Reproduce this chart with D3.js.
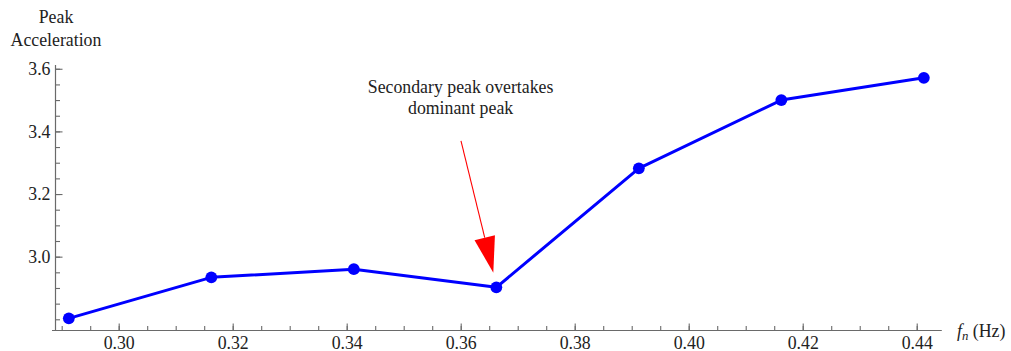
<!DOCTYPE html>
<html>
<head>
<meta charset="utf-8">
<script src="https://cdn.jsdelivr.net/npm/d3@7"></script>
<style>
  html, body { margin: 0; padding: 0; background: #fff; }
  svg { display: block; }
  text { font-family: "Liberation Serif", "Times New Roman", serif; fill: #222; }
</style>
</head>
<body>
<svg id="chart" width="1011" height="351"></svg>
<script>
// Natural frequency (Hz) and the resulting peak acceleration
const freqs = [0.29125, 0.31625, 0.34125, 0.36625, 0.39125, 0.41625, 0.44125];
const peakAccel = [2.803, 2.934, 2.960, 2.902, 3.282, 3.500, 3.571];

// Axis ticks
const xMajorTicks = [0.30, 0.32, 0.34, 0.36, 0.38, 0.40, 0.42, 0.44];
const xMinorTicks = d3.range(0, 31).map(i => 0.29 + i * 0.005).filter(v => v <= 0.4441);
const yMajorTicks = [3.0, 3.2, 3.4, 3.6];
const yMinorTicks = d3.range(0, 17).map(i => 2.80 + i * 0.05).filter(v => v <= 3.601);

// Callout: text lines plus arrow tail/tip in data units
const calloutLines = ["Secondary peak overtakes", "dominant peak"];
const arrowFrom = [0.36005, 3.3696];
const arrowTo = [0.36572, 2.9489];

const svg = d3.select("#chart");
const FS = 17.8;

const x = d3.scaleLinear().domain([0.2883, 0.4444]).range([52, 941.8]);
const y = d3.scaleLinear().domain([2.7636, 3.612]).range([330.7, 65]);

const axisColor = "#6a6a6a";
const xAxisY = 330.5;
const yAxisX = 55.5;

// x axis: minor ticks, then major ticks with labels
const gxMinor = svg.append("g").attr("transform", `translate(0,${xAxisY})`)
  .call(d3.axisBottom(x).tickValues(xMinorTicks).tickSize(-4.5).tickSizeOuter(0).tickFormat(""));
const gx = svg.append("g").attr("transform", `translate(0,${xAxisY})`)
  .call(d3.axisBottom(x).tickValues(xMajorTicks).tickSize(-7).tickSizeOuter(0)
    .tickPadding(6).tickFormat(d3.format(".2f")));

// y axis: minor ticks, then major ticks with labels
const gyMinor = svg.append("g").attr("transform", `translate(${yAxisX},0)`)
  .call(d3.axisLeft(y).tickValues(yMinorTicks).tickSize(-4.5).tickSizeOuter(0).tickFormat(""));
const gy = svg.append("g").attr("transform", `translate(${yAxisX},0)`)
  .call(d3.axisLeft(y).tickValues(yMajorTicks).tickSize(-7).tickSizeOuter(0)
    .tickPadding(5).tickFormat(d3.format(".1f")));

[gxMinor, gx, gyMinor, gy].forEach(g => {
  g.selectAll(".domain").attr("stroke", axisColor).attr("stroke-width", 1.2);
  g.selectAll(".tick line").attr("stroke", axisColor).attr("stroke-width", 1.1);
  g.selectAll("text").attr("font-family", "Liberation Serif, serif")
    .attr("font-size", FS).attr("fill", "#222");
});
// x axis line reaches a little past the y axis on the left
gx.select(".domain").attr("d", `M52,0H941.8`);
gxMinor.select(".domain").remove();
gy.select(".domain").attr("d", `M0,${y.range()[1]}V${xAxisY}`);
gyMinor.select(".domain").remove();

// y axis title
const yTitle = svg.append("text").attr("text-anchor", "middle").attr("font-size", FS);
yTitle.append("tspan").attr("x", 56).attr("y", 23).text("Peak");
yTitle.append("tspan").attr("x", 56).attr("y", 46).text("Acceleration");

// x axis title
const xTitle = svg.append("text").attr("x", 957).attr("y", 336.5).attr("font-size", FS);
xTitle.append("tspan").attr("font-style", "italic").text("f");
xTitle.append("tspan").attr("font-style", "italic").attr("font-size", FS * 0.72).attr("dy", 3).text("n");
xTitle.append("tspan").attr("dy", -3).text(" (Hz)");

// data line and markers
const line = d3.line().x((d, i) => x(freqs[i])).y(d => y(d));
svg.append("path").datum(peakAccel)
  .attr("d", line).attr("fill", "none")
  .attr("stroke", "#0000ff").attr("stroke-width", 3).attr("stroke-linejoin", "round");
svg.append("g").selectAll("circle").data(peakAccel).join("circle")
  .attr("cx", (d, i) => x(freqs[i])).attr("cy", d => y(d))
  .attr("r", 5.9).attr("fill", "#0000ff");

// callout text
const cx = 460.6;
svg.append("g").selectAll("text").data(calloutLines).join("text")
  .attr("x", cx).attr("y", (d, i) => 92.7 + i * 21.6)
  .attr("text-anchor", "middle").attr("font-size", FS).text(d => d);

// callout arrow
const ax0 = x(arrowFrom[0]), ay0 = y(arrowFrom[1]);
const ax1 = x(arrowTo[0]), ay1 = y(arrowTo[1]);
const ang = Math.atan2(ay1 - ay0, ax1 - ax0);
const headLen = 36, headHalf = 10.5;
const bx = ax1 - headLen * Math.cos(ang), by = ay1 - headLen * Math.sin(ang);
const px = -Math.sin(ang), py = Math.cos(ang);
svg.append("line")
  .attr("x1", ax0).attr("y1", ay0).attr("x2", bx).attr("y2", by)
  .attr("stroke", "#ff0000").attr("stroke-width", 1.1);
svg.append("path")
  .attr("d", `M${ax1},${ay1}L${bx + px * headHalf},${by + py * headHalf}L${bx - px * headHalf},${by - py * headHalf}Z`)
  .attr("fill", "#ff0000");
</script>
</body>
</html>
